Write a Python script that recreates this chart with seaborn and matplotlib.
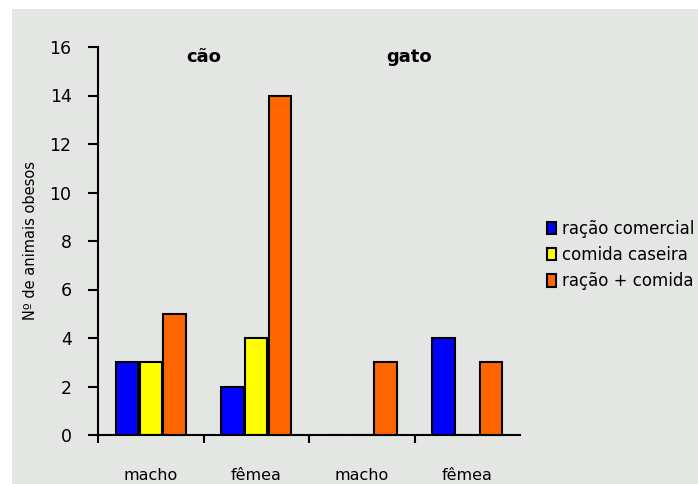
import matplotlib
matplotlib.use("Agg")
import matplotlib.pyplot as plt
from matplotlib.patches import Rectangle
import seaborn as sns
import pandas as pd

# Data: obese animals by species, sex and diet
especies = ["cão", "cão", "gato", "gato"]
sexos = ["macho", "fêmea", "macho", "fêmea"]
dietas = ["ração comercial", "comida caseira", "ração + comida"]
racao_comercial = [3, 2, 0, 4]
comida_caseira = [3, 4, 0, 0]
racao_comida = [5, 14, 3, 3]
cores = ["#0000ff", "#ffff00", "#ff6600"]
yticks = [0, 2, 4, 6, 8, 10, 12, 14, 16]

grupos = [f"{e} {s}" for e, s in zip(especies, sexos)]
linhas = []
for dieta, valores in zip(dietas, [racao_comercial, comida_caseira, racao_comida]):
    for g, v in zip(grupos, valores):
        linhas.append({"grupo": g, "dieta": dieta, "n": v})
df = pd.DataFrame(linhas)

sns.set_style("white")
plt.rcParams["font.family"] = ["DejaVu Sans"]
plt.rcParams["text.color"] = "black"
plt.rcParams["axes.labelcolor"] = "black"
plt.rcParams["xtick.color"] = "black"
plt.rcParams["ytick.color"] = "black"

fig = plt.figure(figsize=(6.98, 4.84), dpi=100)
fig.patch.set_facecolor("white")
fig.patches.append(Rectangle((12 / 698, 0), 1, (484 - 9) / 484,
                             transform=fig.transFigure, facecolor="#e3e6e3",
                             edgecolor="none", zorder=-10))

ax = fig.add_axes([98 / 698, 1 - 435 / 484, (520 - 98) / 698, (435 - 47) / 484])
ax.set_facecolor("none")

sns.barplot(data=df, x="grupo", y="n", hue="dieta", order=grupos,
            hue_order=dietas, palette=cores, width=0.68, gap=0.06,
            edgecolor="black", linewidth=1.5, saturation=1, ax=ax)

ax.set_ylim(0, 16)
ax.set_xlim(-0.5, 3.5)
ax.set_yticks(yticks)
ax.set_yticklabels([str(t) for t in yticks], fontsize=12.5)

# category labels centered, tick marks on the category boundaries
ax.set_xticks([-0.5, 0.5, 1.5, 2.5])
ax.set_xticklabels([])
ax.set_xticks(range(len(sexos)), minor=True)
ax.set_xticklabels(sexos, minor=True, fontsize=11.5)
ax.tick_params(axis="x", which="minor", bottom=True, length=0, pad=24)
ax.tick_params(axis="x", which="major", bottom=True, direction="out", length=6,
               width=1.5, color="black")
ax.tick_params(axis="y", left=True, direction="out", length=7, width=1.5,
               color="black", pad=12)

for side in ["top", "right"]:
    ax.spines[side].set_visible(False)
for side in ["left", "bottom"]:
    ax.spines[side].set_color("black")
    ax.spines[side].set_linewidth(1.5)

ax.set_xlabel("")
ax.set_ylabel("Nº de animais obesos", fontsize=10.5, labelpad=8)

# species headings
ax.text(0.5, 15.6, "cão", ha="center", va="center", fontsize=13, fontweight="bold")
ax.text(2.45, 15.6, "gato", ha="center", va="center", fontsize=13, fontweight="bold")

handles, labels = ax.get_legend_handles_labels()
ax.legend(handles, labels, loc="upper left", bbox_to_anchor=(540 / 698, 1 - 213 / 484),
          bbox_transform=fig.transFigure, frameon=False, fontsize=12,
          handlelength=0.55, handleheight=0.75, handletextpad=0.35, labelspacing=0.5,
          borderaxespad=0)

fig.savefig("out.png", dpi=100)
